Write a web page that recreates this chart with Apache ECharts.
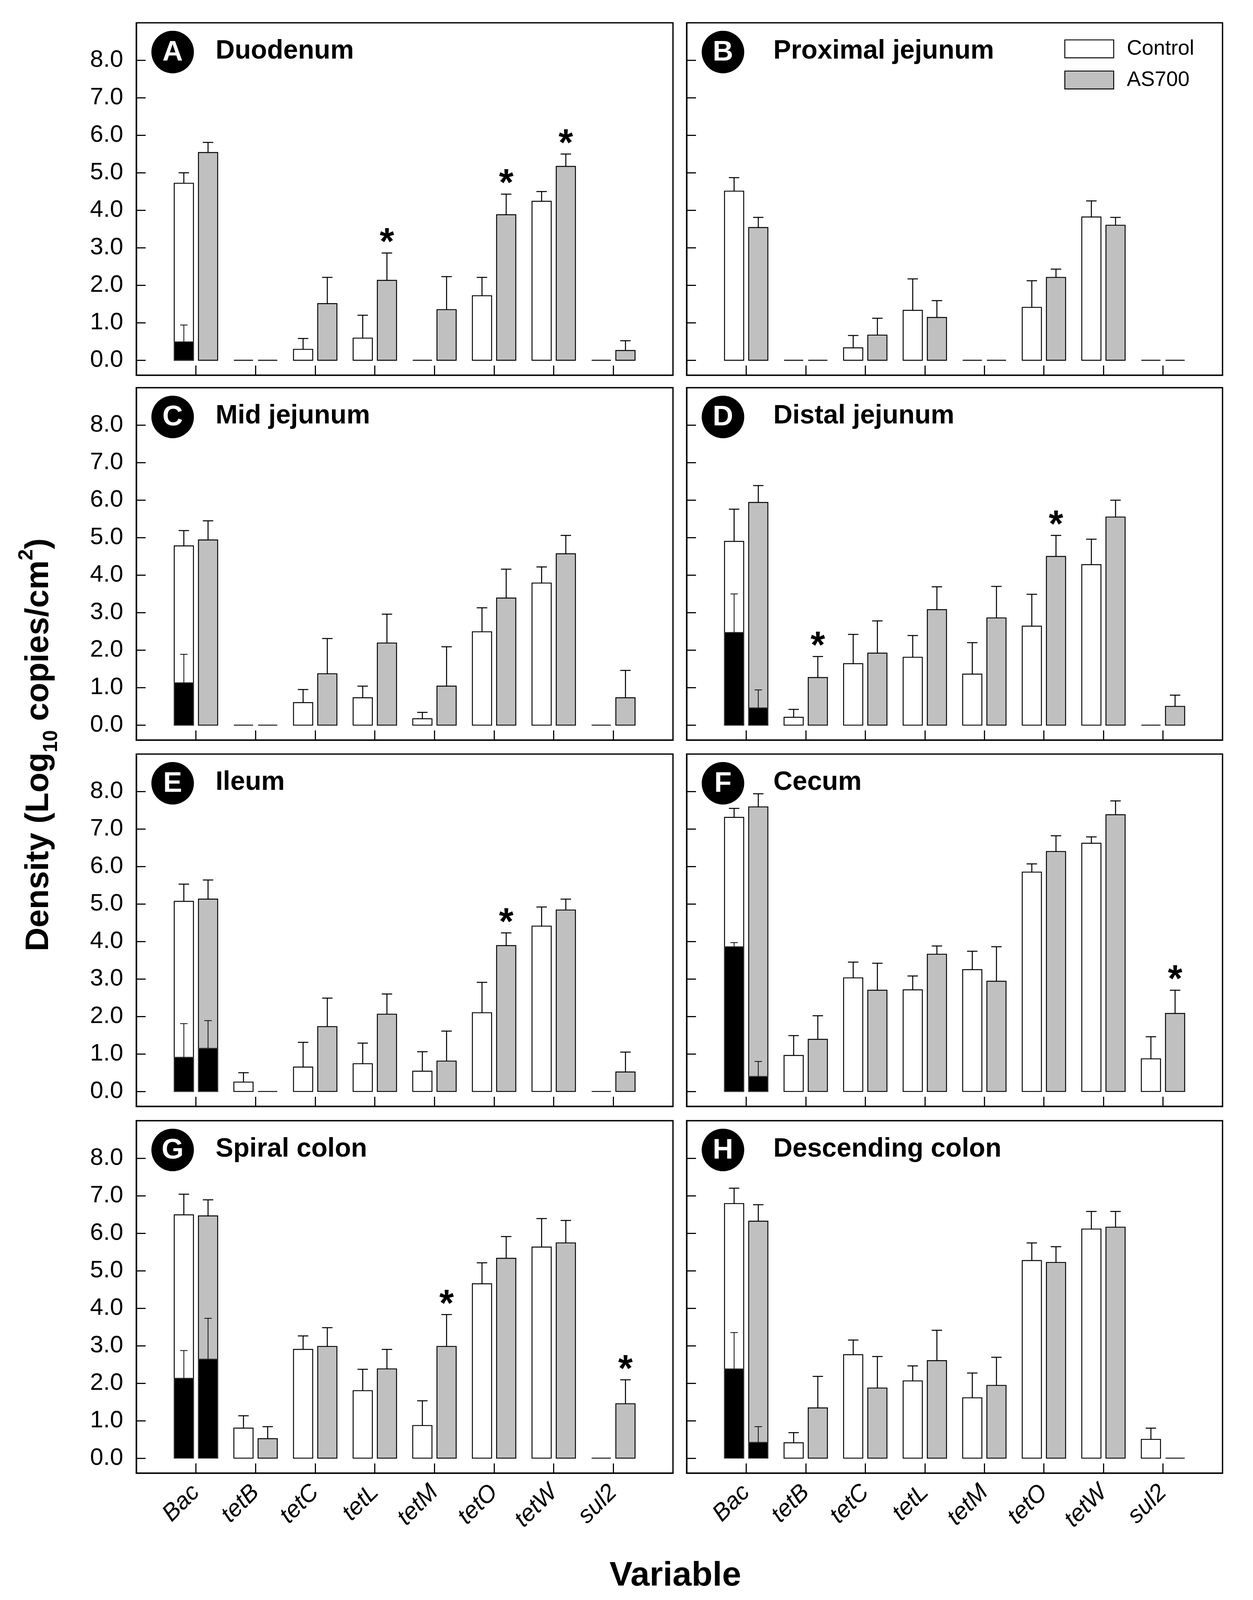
<!DOCTYPE html>
<html>
<head>
<meta charset="utf-8">
<title>Density of Bac and ARGs along the gut</title>
<script src="https://cdn.jsdelivr.net/npm/echarts@6.0.0/dist/echarts.min.js"></script>
<style>
  html, body { margin: 0; padding: 0; background: #fff; overflow: hidden; }
  #chart { width: 100vw; height: 100vh; }
</style>
</head>
<body>
<div id="chart"></div>
<script>
// genes on the x axis, one panel per gut section
const genes = ['Bac', 'tetB', 'tetC', 'tetL', 'tetM', 'tetO', 'tetW', 'sul2'];
const panelLetters = ['A', 'B', 'C', 'D', 'E', 'F', 'G', 'H'];
const panelNames = ['Duodenum', 'Proximal jejunum', 'Mid jejunum', 'Distal jejunum',
  'Ileum', 'Cecum', 'Spiral colon', 'Descending colon'];
const yTicks = [0, 1, 2, 3, 4, 5, 6, 7, 8];

// mean density (log10 copies/cm2), one row per panel A..H
const controlMean = [
  [4.72, 0, 0.29, 0.59, 0, 1.72, 4.24, 0],
  [4.51, 0, 0.33, 1.33, 0, 1.41, 3.82, 0],
  [4.78, 0, 0.60, 0.73, 0.17, 2.49, 3.79, 0],
  [4.90, 0.21, 1.64, 1.81, 1.36, 2.64, 4.28, 0],
  [5.07, 0.25, 0.65, 0.74, 0.54, 2.10, 4.41, 0],
  [7.31, 0.96, 3.03, 2.71, 3.25, 5.85, 6.62, 0.87],
  [6.49, 0.80, 2.90, 1.80, 0.87, 4.65, 5.63, 0],
  [6.79, 0.41, 2.76, 2.06, 1.61, 5.27, 6.11, 0.50]
];
const controlSE = [
  [0.28, 0, 0.29, 0.61, 0, 0.49, 0.26, 0],
  [0.36, 0, 0.33, 0.84, 0, 0.71, 0.43, 0],
  [0.41, 0, 0.35, 0.31, 0.17, 0.64, 0.43, 0],
  [0.86, 0.21, 0.78, 0.58, 0.84, 0.85, 0.68, 0],
  [0.46, 0.25, 0.66, 0.55, 0.52, 0.81, 0.51, 0],
  [0.24, 0.53, 0.42, 0.37, 0.49, 0.22, 0.17, 0.59],
  [0.55, 0.33, 0.36, 0.57, 0.66, 0.56, 0.76, 0],
  [0.41, 0.27, 0.39, 0.40, 0.66, 0.47, 0.47, 0.30]
];
const as700Mean = [
  [5.54, 0, 1.51, 2.13, 1.35, 3.88, 5.17, 0.26],
  [3.54, 0, 0.67, 1.14, 0, 2.21, 3.60, 0],
  [4.94, 0, 1.37, 2.19, 1.04, 3.39, 4.57, 0.73],
  [5.94, 1.27, 1.92, 3.08, 2.86, 4.50, 5.55, 0.50],
  [5.13, 0, 1.73, 2.06, 0.81, 3.89, 4.84, 0.52],
  [7.59, 1.39, 2.70, 3.66, 2.94, 6.40, 7.38, 2.08],
  [6.46, 0.52, 2.98, 2.38, 2.98, 5.33, 5.74, 1.45],
  [6.32, 1.34, 1.87, 2.60, 1.94, 5.22, 6.16, 0]
];
const as700SE = [
  [0.27, 0, 0.70, 0.73, 0.88, 0.55, 0.33, 0.26],
  [0.27, 0, 0.45, 0.45, 0, 0.22, 0.21, 0],
  [0.51, 0, 0.94, 0.77, 1.05, 0.77, 0.49, 0.73],
  [0.45, 0.56, 0.86, 0.61, 0.84, 0.56, 0.45, 0.30],
  [0.51, 0, 0.76, 0.54, 0.80, 0.34, 0.29, 0.53],
  [0.35, 0.63, 0.72, 0.22, 0.92, 0.42, 0.37, 0.62],
  [0.43, 0.32, 0.50, 0.52, 0.85, 0.58, 0.60, 0.64],
  [0.44, 0.84, 0.84, 0.81, 0.75, 0.42, 0.42, 0]
];
// black part inside the Bac bars: [mean, SE], null when absent
const bacInnerControl = [[0.49, 0.45], null, [1.13, 0.76], [2.47, 1.03],
  [0.91, 0.90], [3.86, 0.11], [2.13, 0.74], [2.38, 0.97]];
const bacInnerAS700 = [null, null, null, [0.46, 0.48],
  [1.15, 0.74], [0.40, 0.40], [2.64, 1.09], [0.42, 0.42]];
// AS700 bars marked with an asterisk
const significant = [['tetL', 'tetO', 'tetW'], [], [], ['tetB', 'tetO'],
  ['tetO'], ['sul2'], ['tetM', 'sul2'], []];

const FONT = '"Liberation Sans", Arial, Helvetica, sans-serif';

const chart = echarts.init(document.getElementById('chart'), null, { renderer: 'canvas' });
// layout is measured on a 3208 x 4490 page; scale it to the real viewport
const sx = chart.getWidth() / 3208;
const sy = chart.getHeight() / 4490;
const sc = Math.sqrt(sx * sy);
function X(v) { return v * sx; }
function Y(v) { return v * sy; }
function S(v) { return v * sc; }

const colLeft = [349, 1758];
const colWidth = [1374, 1372];
const rowTop = [64, 1088, 2116, 3145];
const gridHeight = 989;

// kind: 0 control, 1 AS700, 2 inner control, 3 inner AS700
function renderBar(params, api) {
  const x = api.value(0), mean = api.value(1), se = api.value(2);
  const kind = api.value(3), star = api.value(4);
  const inner = kind >= 2;
  const left = kind % 2 === 0 ? x - 0.364 : x + 0.042;
  const right = left + 0.322;
  const mid = (left + right) / 2;
  const p0 = api.coord([left, 0]);
  const p1 = api.coord([right, mean]);
  const children = [];
  if (mean > 0) {
    children.push({
      type: 'rect',
      shape: { x: p0[0], y: p1[1], width: p1[0] - p0[0], height: p0[1] - p1[1] },
      style: {
        fill: inner ? '#000' : (kind === 1 ? '#c0c0c0' : '#fff'),
        stroke: inner ? '#333' : '#000',
        lineWidth: S(2.5)
      }
    });
  } else {
    children.push({
      type: 'line',
      shape: { x1: p0[0], y1: p0[1], x2: p1[0], y2: p0[1] },
      style: { stroke: '#000', lineWidth: S(2.5) }
    });
  }
  if (se > 0) {
    const b = api.coord([mid, mean]);
    const t = api.coord([mid, mean + se]);
    const cap = S(inner ? 10 : 14);
    const w = S(inner ? 2 : 2.7);
    children.push({ type: 'line', shape: { x1: b[0], y1: b[1], x2: t[0], y2: t[1] }, style: { stroke: '#000', lineWidth: w } });
    children.push({ type: 'line', shape: { x1: t[0] - cap, y1: t[1], x2: t[0] + cap, y2: t[1] }, style: { stroke: '#000', lineWidth: w } });
    if (star) {
      children.push({
        type: 'text', x: t[0], y: t[1] - S(25),
        style: { text: '*', fontSize: S(100), fontWeight: 'bold', fontFamily: FONT, fill: '#000', align: 'center', verticalAlign: 'middle' }
      });
    }
  }
  return { type: 'group', children: children };
}

const grids = [], xAxes = [], yAxes = [], series = [], graphics = [];

for (let p = 0; p < 8; p++) {
  const col = p % 2, row = Math.floor(p / 2);
  const gl = colLeft[col], gt = rowTop[row];
  grids.push({
    left: X(gl), top: Y(gt), width: X(colWidth[col]), height: Y(gridHeight),
    show: true, borderColor: '#000', borderWidth: S(3.5), backgroundColor: 'transparent'
  });
  xAxes.push({
    type: 'value', gridIndex: p, min: 0, max: 9,
    axisLine: { show: true, onZero: false, lineStyle: { color: '#000', width: S(3.5) } },
    axisTick: { show: true, inside: true, length: S(26), customValues: [1, 2, 3, 4, 5, 6, 7, 8], lineStyle: { color: '#000', width: S(3) } },
    splitLine: { show: false },
    axisLabel: {
      show: row === 3, customValues: [1, 2, 3, 4, 5, 6, 7, 8], rotate: 45, margin: S(42),
      formatter: function (v) { return genes[v - 1] || ''; },
      fontSize: S(64), fontStyle: 'italic', fontFamily: FONT, color: '#000'
    }
  });
  yAxes.push({
    type: 'value', gridIndex: p, min: -0.4, max: 9,
    axisLine: { show: true, onZero: false, lineStyle: { color: '#000', width: S(3.5) } },
    axisTick: { show: true, inside: true, length: S(25), customValues: yTicks, lineStyle: { color: '#000', width: S(3) } },
    splitLine: { show: false },
    axisLabel: {
      show: col === 0, customValues: yTicks, margin: S(35),
      formatter: function (v) { return v.toFixed(1); },
      fontSize: S(64), fontFamily: FONT, color: '#000'
    }
  });

  const ctrlData = [], asData = [];
  genes.forEach(function (g, i) {
    ctrlData.push([i + 1, controlMean[p][i], controlSE[p][i], 0, 0]);
    asData.push([i + 1, as700Mean[p][i], as700SE[p][i], 1, significant[p].indexOf(g) >= 0 ? 1 : 0]);
  });
  if (bacInnerControl[p]) ctrlData.push([1, bacInnerControl[p][0], bacInnerControl[p][1], 2, 0]);
  if (bacInnerAS700[p]) asData.push([1, bacInnerAS700[p][0], bacInnerAS700[p][1], 3, 0]);

  series.push({
    name: 'Control', type: 'custom', xAxisIndex: p, yAxisIndex: p,
    renderItem: renderBar, data: ctrlData, encode: { x: 0, y: 1 },
    itemStyle: { color: '#fff', borderColor: '#000', borderWidth: S(2.5) }, silent: true
  });
  series.push({
    name: 'AS700', type: 'custom', xAxisIndex: p, yAxisIndex: p,
    renderItem: renderBar, data: asData, encode: { x: 0, y: 1 },
    itemStyle: { color: '#c0c0c0', borderColor: '#000', borderWidth: S(2.5) }, silent: true
  });

  // panel badge and name
  const cx = X(gl + 93), cy = Y(gt + 82);
  graphics.push({ type: 'circle', shape: { cx: cx, cy: cy, r: S(57) }, style: { fill: '#000' } });
  graphics.push({
    type: 'text', x: cx, y: cy + S(2),
    style: { text: panelLetters[p], fill: '#fff', fontSize: S(76), fontWeight: 'bold', fontFamily: FONT, align: 'center', verticalAlign: 'middle' }
  });
  graphics.push({
    type: 'text', x: X(gl + (col === 0 ? 203 : 222)), y: Y(gt + 80),
    style: { text: panelNames[p], fill: '#000', fontSize: S(71), fontWeight: 'bold', fontFamily: FONT, align: 'left', verticalAlign: 'middle' }
  });
}

// axis titles
graphics.push({
  type: 'text', x: X(100), y: Y(2090), rotation: Math.PI / 2,
  style: {
    text: '{b|Density (Log}{sub|10}{b| copies/cm}{sup|2}{b|)}',
    align: 'center', verticalAlign: 'middle', fill: '#000',
    rich: {
      b: { fontSize: S(88), fontWeight: 'bold', fontFamily: FONT, lineHeight: S(120), verticalAlign: 'middle' },
      sub: { fontSize: S(54), fontWeight: 'bold', fontFamily: FONT, lineHeight: S(54), verticalAlign: 'bottom' },
      sup: { fontSize: S(54), fontWeight: 'bold', fontFamily: FONT, lineHeight: S(54), verticalAlign: 'top' }
    }
  }
});
graphics.push({
  type: 'text', x: X(1729), y: Y(4423),
  style: { text: 'Variable', fill: '#000', fontSize: S(92), fontWeight: 'bold', fontFamily: FONT, align: 'center', verticalAlign: 'middle' }
});

chart.setOption({
  animation: false,
  backgroundColor: '#fff',
  legend: {
    left: X(2725), top: Y(108), orient: 'vertical', padding: 0,
    itemWidth: S(131), itemHeight: S(48), itemGap: S(28), icon: 'rect', selectedMode: false,
    textStyle: { fontSize: S(56), fontFamily: FONT, color: '#000', padding: [0, 0, 0, S(30)] },
    data: [
      { name: 'Control', itemStyle: { color: '#fff', borderColor: '#000', borderWidth: S(2.5) } },
      { name: 'AS700', itemStyle: { color: '#c0c0c0', borderColor: '#000', borderWidth: S(2.5) } }
    ]
  },
  grid: grids,
  xAxis: xAxes,
  yAxis: yAxes,
  series: series,
  graphic: graphics
});
</script>
</body>
</html>
